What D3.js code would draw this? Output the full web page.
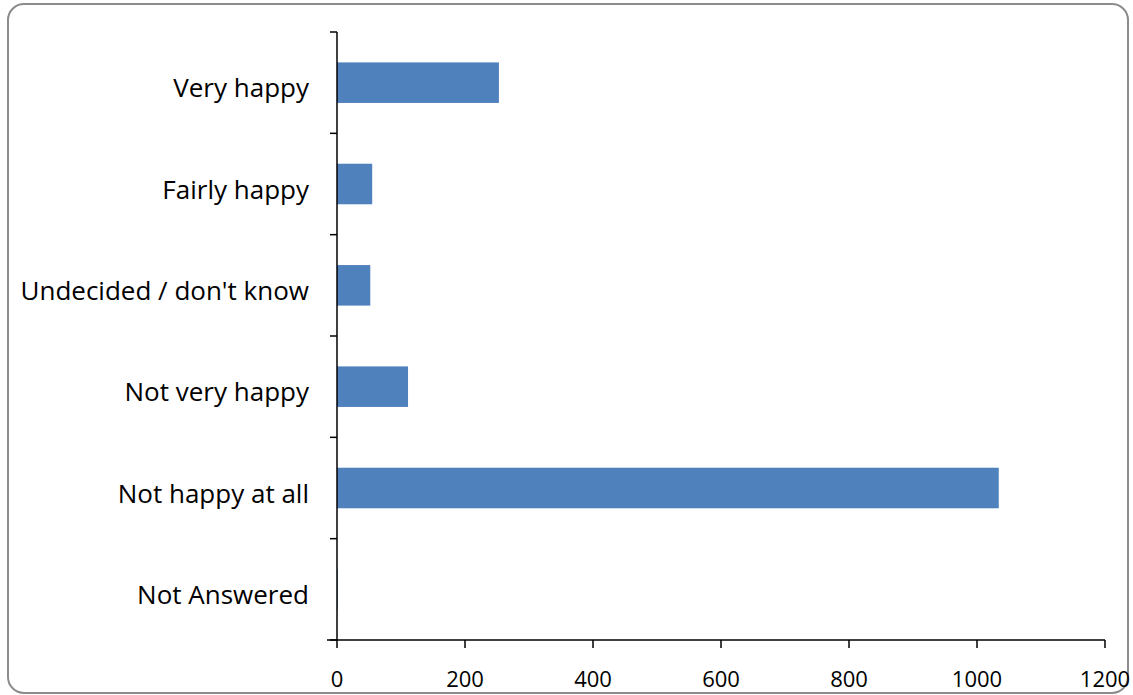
<!DOCTYPE html>
<html><head><meta charset="utf-8">
<script src="https://cdn.jsdelivr.net/npm/d3@7"></script>
<style>body{margin:0;background:#fff;} svg{display:block;}</style>
</head><body>
<svg id="c" width="1133" height="695"></svg>
<script>
const categories = ["Very happy","Fairly happy","Undecided / don't know","Not very happy","Not happy at all","Not Answered"];
const values = [253, 55, 52, 111, 1034, 1];
const xTicks = [0,200,400,600,800,1000,1200];

const svg = d3.select("#c");
svg.append("rect").attr("x",8).attr("y",4).attr("width",1120).attr("height",689)
  .attr("rx",16).attr("fill","#fff").attr("stroke","#8c8c8c").attr("stroke-width",2);

const x = d3.scaleLinear().domain([0,1200]).range([337,1105]);
const y = d3.scaleBand().domain(categories).range([32,640]).paddingInner(0.6).paddingOuter(0.3);

const font = "'Open Sans', sans-serif";

svg.append("g").selectAll("rect").data(categories).join("rect")
  .attr("x", x(0)).attr("y", d=>y(d))
  .attr("width", (d,i)=>x(values[i])-x(0)).attr("height", y.bandwidth())
  .attr("fill","#4f81bd");

// y axis
const ya = svg.append("g");
ya.append("line").attr("x1",337).attr("x2",337).attr("y1",32).attr("y2",640).attr("stroke","#000").attr("stroke-width",1.5);
const bounds = d3.range(categories.length+1).map(i=>32+i*(608/categories.length));
ya.selectAll("line.t").data(bounds).join("line").attr("class","t")
  .attr("x1",330).attr("x2",337).attr("y1",d=>d).attr("y2",d=>d).attr("stroke","#000").attr("stroke-width",1.5);
ya.selectAll("text").data(categories).join("text")
  .attr("x",309).attr("y",d=>y(d)+y.bandwidth()/2+14.5)
  .attr("text-anchor","end").attr("font-family",font).attr("font-size",26).attr("fill","#000")
  .text(d=>d);

// x axis
const xa = svg.append("g");
xa.append("line").attr("x1",327).attr("x2",1105).attr("y1",640).attr("y2",640).attr("stroke","#000").attr("stroke-width",1.5);
xa.selectAll("line.t").data(xTicks).join("line").attr("class","t")
  .attr("x1",d=>x(d)).attr("x2",d=>x(d)).attr("y1",640).attr("y2",648).attr("stroke","#000").attr("stroke-width",1.5);
xa.selectAll("text").data(xTicks).join("text")
  .attr("x",d=>x(d)).attr("y",687).attr("text-anchor","middle")
  .attr("font-family",font).attr("font-size",22).attr("fill","#000").text(d=>d);
</script>
</body></html>
